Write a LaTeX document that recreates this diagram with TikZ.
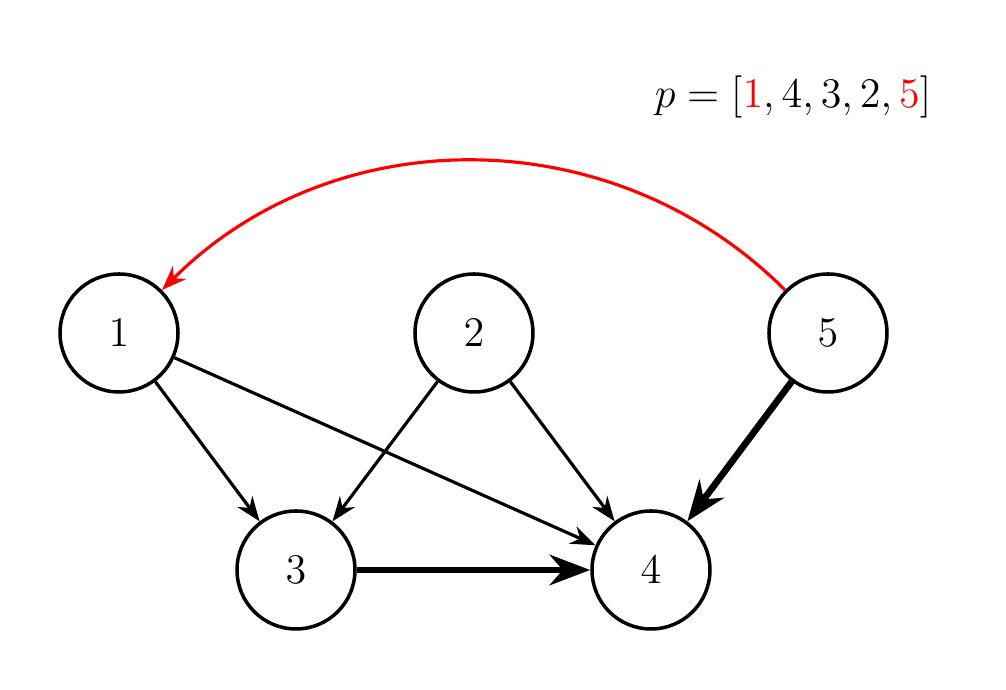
\documentclass[tikz,border=0pt]{standalone}
\usepackage{xcolor}
\usetikzlibrary{arrows.meta}

\begin{document}
\begin{tikzpicture}[font=\large,
  vertex/.style={circle,draw=black,line width=1pt,minimum size=1.18cm,inner sep=0pt},
  edge/.style={line width=0.9pt,-{Stealth}},
  heavy/.style={line width=1.9pt,-{Stealth}}]

\useasboundingbox (0,0) rectangle (10.06,6.9);

\node[vertex] (n1) at (1.19,3.57) {$1$};
\node[vertex] (n2) at (4.74,3.57) {$2$};
\node[vertex] (n5) at (8.28,3.57) {$5$};
\node[vertex] (n3) at (2.96,1.20) {$3$};
\node[vertex] (n4) at (6.51,1.20) {$4$};

\draw[edge] (n1)--(n3);
\draw[edge] (n1)--(n4);
\draw[edge] (n2)--(n3);
\draw[edge] (n2)--(n4);
\draw[heavy] (n3)--(n4);
\draw[heavy] (n5)--(n4);
\draw[edge,red] (n5) to[out=135,in=45] (n1);

\node (perm) at (7.93,5.93) {$p = [\textcolor{red}{1}, 4, 3, 2, \textcolor{red}{5}]$};

\end{tikzpicture}
\end{document}
